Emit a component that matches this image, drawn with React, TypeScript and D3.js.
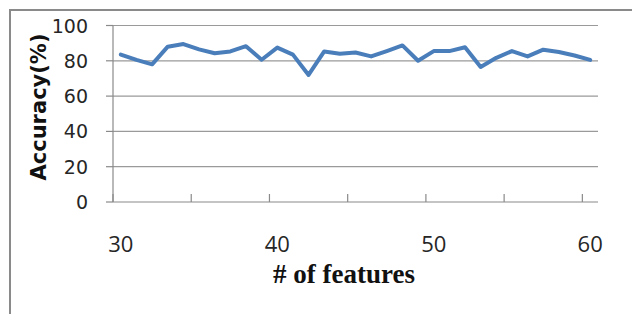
import * as d3 from "d3";

// feature counts 30..60, one accuracy reading each
const features = d3.range(30, 61);
const accuracy = [
  83.5, 80.5, 78, 88, 89.5, 86.5, 84.3, 85.3, 88.3, 80.6, 87.5, 83.5, 72, 85.3, 84, 84.7,
  82.5, 85.5, 88.7, 80, 85.5, 85.5, 87.7, 76.5, 81.7, 85.5, 82.5, 86.3, 85, 83, 80.5,
];
const yTicks = [0, 20, 40, 60, 80, 100];
const xTickMarks = [30, 35, 40, 45, 50, 55, 60];
const xLabels = [30, 40, 50, 60];

const W = 632;
const H = 314;
const plot = { left: 113, right: 598, top: 25.5, bottom: 202 };

export default function App() {
  const x = d3
    .scaleBand<number>()
    .domain(features)
    .range([plot.left, plot.right])
    .padding(0);
  const y = d3.scaleLinear().domain([0, 100]).range([plot.bottom, plot.top]);
  const cx = (f: number) => (x(f) ?? 0) + x.bandwidth() / 2;

  const line = d3
    .line<number>()
    .x((_, i) => cx(features[i]))
    .y((d) => y(d));

  return (
    <svg
      width={W}
      height={H}
      style={{ position: "absolute", left: 0, top: 0, background: "#fff" }}
    >
      <rect x={0} y={0} width={W} height={H} fill="#fff" />
      {/* chart frame, runs off the right/bottom edge */}
      <rect x={10} y={10} width={W + 20} height={H + 20} fill="#fff" stroke="#8a8a8a" strokeWidth={2} />

      {/* gridlines */}
      {yTicks
        .filter((t) => t > 0)
        .map((t) => (
          <line key={t} x1={plot.left} x2={plot.right} y1={y(t)} y2={y(t)} stroke="#9a9a9a" strokeWidth={1.2} />
        ))}

      {/* y axis */}
      <line x1={plot.left} x2={plot.left} y1={plot.top} y2={plot.bottom} stroke="#8a8a8a" strokeWidth={1.2} />
      {yTicks.map((t) => (
        <g key={t}>
          <line x1={plot.left - 7} x2={plot.left} y1={y(t)} y2={y(t)} stroke="#8a8a8a" strokeWidth={1.2} />
          <text
            x={88}
            y={y(t)}
            textAnchor="end"
            dominantBaseline="central"
            fontFamily="DejaVu Sans"
            fontSize={19}
            fill="#262626"
          >
            {t}
          </text>
        </g>
      ))}

      {/* x axis */}
      <line x1={plot.left} x2={plot.right} y1={plot.bottom} y2={plot.bottom} stroke="#8a8a8a" strokeWidth={1.2} />
      {xTickMarks.map((t) => (
        <line key={t} x1={x(t)} x2={x(t)} y1={plot.bottom - 8} y2={plot.bottom} stroke="#8a8a8a" strokeWidth={1.2} />
      ))}
      {xLabels.map((t) => (
        <text key={t} x={cx(t)} y={252} textAnchor="middle" fontFamily="Open Sans" fontSize={22} fill="#262626">
          {t}
        </text>
      ))}

      {/* series */}
      <path d={line(accuracy) ?? ""} fill="none" stroke="#4a7ebb" strokeWidth={4} strokeLinejoin="round" strokeLinecap="round" />

      {/* axis titles */}
      <text x={344} y={283} textAnchor="middle" fontFamily="Liberation Serif" fontWeight="bold" fontSize={27} fill="#111">
        # of features
      </text>
      <text
        transform="translate(46,107) rotate(-90)"
        textAnchor="middle"
        fontFamily="DejaVu Sans"
        fontWeight="bold"
        fontSize={21}
        fill="#111"
      >
        Accuracy(%)
      </text>
    </svg>
  );
}
